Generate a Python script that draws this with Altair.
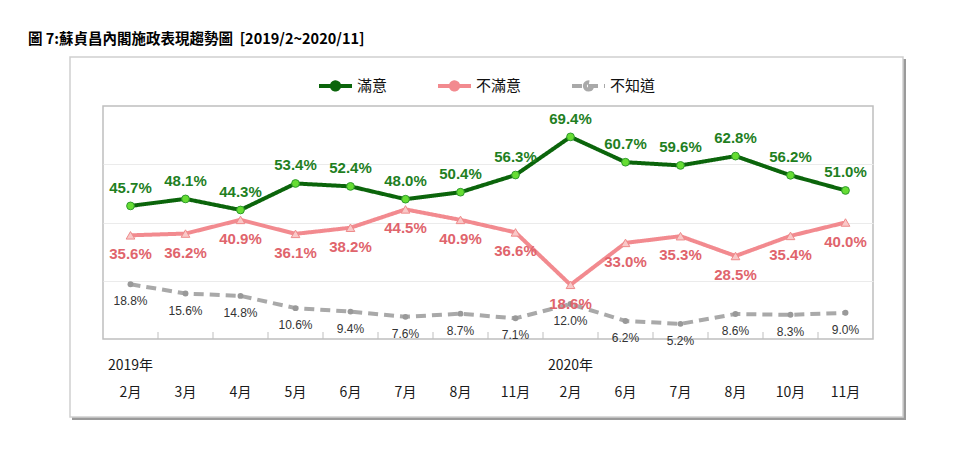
import altair as alt
import pandas as pd

# ---------------- data ----------------
years = ["2019"] * 8 + ["2020"] * 6
months = ["2", "3", "4", "5", "6", "7", "8", "11", "2", "6", "7", "8", "10", "11"]
satisfied = [45.7, 48.1, 44.3, 53.4, 52.4, 48.0, 50.4, 56.3, 69.4, 60.7, 59.6, 62.8, 56.2, 51.0]
unsatisfied = [35.6, 36.2, 40.9, 36.1, 38.2, 44.5, 40.9, 36.6, 18.6, 33.0, 35.3, 28.5, 35.4, 40.0]
unknown = [18.8, 15.6, 14.8, 10.6, 9.4, 7.6, 8.7, 7.1, 12.0, 6.2, 5.2, 8.6, 8.3, 9.0]
series_names = ["滿意", "不滿意", "不知道"]
year_labels = ["2019年", "2020年"]
year_label_keys = ["2019/2", "2020/2"]
title_text = "圖 7:蘇貞昌內閣施政表現趨勢圖\u00a0\u00a0[2019/2~2020/11]"

keys = [f"{y}/{m}" for y, m in zip(years, months)]
rows = []
for name, vals in zip(series_names, [satisfied, unsatisfied, unknown]):
    for k, v in zip(keys, vals):
        rows.append({"key": k, "series": name, "value": v, "label": f"{v:.1f}%"})
df = pd.DataFrame(rows)

CJK = "Noto Sans CJK TC"
NUM = "Liberation Sans"

W, H = 770, 233

xscale = alt.Scale(type="band", paddingInner=0, paddingOuter=0, domain=keys)
xaxis = alt.Axis(
    title=None, labelExpr="split(datum.value, '/')[1] + '月'", labelFont=CJK,
    labelFontSize=14, labelColor="#1a1a1a", labelPadding=46, ticks=False,
    domain=False, grid=False, labelAngle=0, labelBaseline="top",
)


def X(band=0.5):
    return alt.X("key:N", sort=keys, scale=xscale, axis=xaxis, bandPosition=band)


Y = alt.Y(
    "value:Q",
    scale=alt.Scale(domain=[0, 80]),
    axis=alt.Axis(values=[20, 40, 60], grid=True, gridColor="#ebebeb", labels=False,
                  ticks=False, domain=False, title=None),
)

base = alt.Chart(df)
one = pd.DataFrame({"a": [0]})

# outer frame with shadow on right / bottom
shadow_r = alt.Chart(one).mark_rule(color="#9a9a9a", strokeWidth=3).encode(
    x=alt.value(801.5), y=alt.value(-47), y2=alt.value(313))
shadow_b = alt.Chart(one).mark_rule(color="#9a9a9a", strokeWidth=3).encode(
    x=alt.value(-31), x2=alt.value(803), y=alt.value(312.5))
frame = alt.Chart(one).mark_rect(
    fillOpacity=0, stroke="#cfcfcf", strokeWidth=1.5
).encode(x=alt.value(-33), x2=alt.value(800), y=alt.value(-49), y2=alt.value(311))

title = alt.Chart(pd.DataFrame({"t": [title_text]})).mark_text(
    font=CJK, fontSize=14.5, fontWeight="bold", align="left", baseline="middle", color="#000000"
).encode(text="t:N", x=alt.value(-75), y=alt.value(-66))

# inner ticks at category boundaries
ticks = alt.Chart(pd.DataFrame({"key": keys[1:]})).mark_rule(
    color="#bfbfbf", strokeWidth=1
).encode(x=X(0), y=alt.value(H - 7), y2=alt.value(H))

lines = base.mark_line(strokeWidth=4, strokeCap="butt").encode(
    x=X(), y=Y,
    color=alt.Color(
        "series:N",
        scale=alt.Scale(domain=series_names, range=["#0b650b", "#f28a8f", "#a9a9a9"]),
        legend=alt.Legend(
            title=None, orient="none", direction="horizontal", legendX=214, legendY=-39,
            symbolType="M-1,0H1M-0.22,0A0.22,0.22 0 1,0 0.22,0A0.22,0.22 0 1,0 -0.22,0",
            symbolSize=1089, symbolStrokeWidth=4, labelFont=CJK, labelFontSize=15,
            labelColor="#111111", columnPadding=42, labelOffset=3,
        ),
    ),
    strokeDash=alt.StrokeDash(
        "series:N",
        scale=alt.Scale(domain=series_names, range=[[1, 0], [1, 0], [10, 6]]),
        legend=None,
    ),
)

pts_s = base.transform_filter(alt.datum.series == "滿意").mark_point(
    shape="circle", filled=True, size=60, fill="#66dd33", stroke="#2f9a2f", strokeWidth=1, opacity=1
).encode(x=X(), y=Y)
pts_u = base.transform_filter(alt.datum.series == "不滿意").mark_point(
    shape="triangle-up", filled=True, size=75, fill="#f9c8c8", stroke="#ee8a8a", strokeWidth=1, opacity=1
).encode(x=X(), y=Y)
pts_k = base.transform_filter(alt.datum.series == "不知道").mark_point(
    shape="circle", filled=True, size=35, fill="#999999", opacity=1
).encode(x=X(), y=Y)

lab_s = base.transform_filter(alt.datum.series == "滿意").mark_text(
    font=NUM, fontSize=15, fontWeight="bold", color="#1f7f1f", dy=-18, baseline="middle"
).encode(x=X(), y=Y, text="label:N")
lab_u = base.transform_filter(alt.datum.series == "不滿意").mark_text(
    font=NUM, fontSize=15, fontWeight="bold", color="#e0646c", dy=19, baseline="middle"
).encode(x=X(), y=Y, text="label:N")
lab_k = base.transform_filter(alt.datum.series == "不知道").mark_text(
    font=NUM, fontSize=12, color="#333333", dy=17, baseline="middle"
).encode(x=X(), y=Y, text="label:N")

years_layer = alt.Chart(pd.DataFrame({"key": year_label_keys, "yl": year_labels})).mark_text(
    font=CJK, fontSize=14, color="#1a1a1a", baseline="middle"
).encode(x=X(), y=alt.value(260), text="yl:N")

chart = alt.layer(
    shadow_r, shadow_b, frame, title, lines, pts_k, pts_u, pts_s, lab_k, lab_u, lab_s, ticks, years_layer
).properties(
    width=W, height=H,
    autosize=alt.AutoSizeParams(type="none"),
    padding={"left": 95, "top": 98, "right": 78, "bottom": 112},
).configure_view(stroke="#bfbfbf", strokeWidth=1.5)

chart.save("out.html", embed_options={"renderer": "svg", "actions": False})
